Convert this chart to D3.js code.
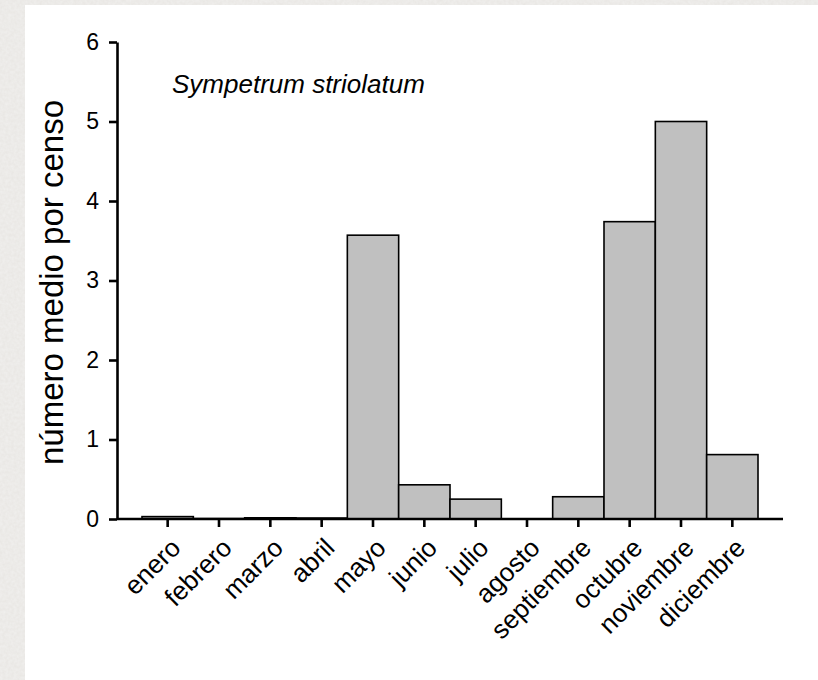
<!DOCTYPE html>
<html>
<head>
<meta charset="utf-8">
<script src="https://cdn.jsdelivr.net/npm/d3@7/dist/d3.min.js"></script>
<style>
  html, body { margin: 0; padding: 0; background: #e7e5e2; }
  svg { display: block; }
</style>
</head>
<body>
<svg id="chart" width="818" height="680"></svg>
<script>
const months = ["enero","febrero","marzo","abril","mayo","junio","julio","agosto","septiembre","octubre","noviembre","diciembre"];
const values = [0.03, 0.005, 0.015, 0.012, 3.57, 0.43, 0.25, 0, 0.28, 3.74, 5.0, 0.81];
const yTicks = [0, 1, 2, 3, 4, 5, 6];
const species = "Sympetrum striolatum";
const yLabel = "número medio por censo";

const svg = d3.select("#chart");
const font = "'Liberation Sans', Arial, sans-serif";

// textured page background and white panel
const defs = svg.append("defs");
const filt = defs.append("filter").attr("id", "paper").attr("x", 0).attr("y", 0).attr("width", "100%").attr("height", "100%");
filt.append("feTurbulence").attr("type", "fractalNoise").attr("baseFrequency", 0.35).attr("numOctaves", 2).attr("seed", 3).attr("result", "noise");
filt.append("feColorMatrix").attr("in", "noise").attr("type", "matrix")
  .attr("values", "0 0 0 0 0.90  0 0 0 0 0.895  0 0 0 0 0.885  0 0 0 -0.9 0.75");
svg.append("rect").attr("x", 0).attr("y", 0).attr("width", 818).attr("height", 680).attr("fill", "#e9e7e4");
svg.append("rect").attr("x", 0).attr("y", 0).attr("width", 818).attr("height", 680).attr("filter", "url(#paper)");
svg.append("rect").attr("x", 25).attr("y", 5).attr("width", 793).attr("height", 675).attr("fill", "#ffffff");

const axL = 117, axR = 783, axT = 42, axB = 519;
const y = d3.scaleLinear().domain([0, 6]).range([axB, axT]);
const x = d3.scaleBand().domain(months).range([axL + 25, axR - 25]).padding(0);

// bars
svg.append("g").selectAll("rect").data(months).join("rect")
  .attr("x", d => x(d))
  .attr("y", (d, i) => y(values[i]))
  .attr("width", x.bandwidth())
  .attr("height", (d, i) => y(0) - y(values[i]))
  .attr("fill", "#c0c0c0")
  .attr("stroke", "#000")
  .attr("stroke-width", 1.6)
  .attr("display", (d, i) => values[i] > 0 ? null : "none");

// y axis
const yAxis = svg.append("g").attr("transform", `translate(${axL},0)`)
  .call(d3.axisLeft(y).tickValues(yTicks).tickSize(8).tickSizeOuter(0).tickPadding(10).tickFormat(d3.format("d")));
yAxis.select(".domain").attr("stroke", "#000").attr("stroke-width", 2.6);
yAxis.selectAll(".tick line").attr("stroke", "#000").attr("stroke-width", 2.6);
yAxis.selectAll(".tick text").attr("font-family", font).attr("font-size", 23).attr("fill", "#000");

// x axis
const xAxis = svg.append("g").attr("transform", `translate(0,${axB})`)
  .call(d3.axisBottom(x).tickSize(8).tickSizeOuter(0).tickFormat(""));
xAxis.select(".domain").remove();
xAxis.append("line").attr("x1", axL).attr("x2", axR).attr("y1", 0).attr("y2", 0)
  .attr("stroke", "#000").attr("stroke-width", 2.6);
xAxis.selectAll(".tick line").attr("stroke", "#000").attr("stroke-width", 2.6);

// x labels rotated
svg.append("g").selectAll("text").data(months).join("text")
  .attr("transform", d => `translate(${x(d) + x.bandwidth() / 2 + 8},${axB + 24}) rotate(-45)`)
  .attr("text-anchor", "end")
  .attr("dy", "0.35em")
  .attr("font-family", font)
  .attr("font-size", 26)
  .attr("fill", "#000")
  .text(d => d);

// y label
svg.append("text")
  .attr("transform", `translate(63,${(axT + axB) / 2 + 2}) rotate(-90)`)
  .attr("text-anchor", "middle")
  .attr("font-family", font)
  .attr("font-size", 33)
  .attr("fill", "#000")
  .text(yLabel);

// species label
svg.append("text")
  .attr("x", 172).attr("y", 93)
  .attr("font-family", font)
  .attr("font-style", "italic")
  .attr("font-size", 26)
  .attr("fill", "#000")
  .text(species);
</script>
</body>
</html>
